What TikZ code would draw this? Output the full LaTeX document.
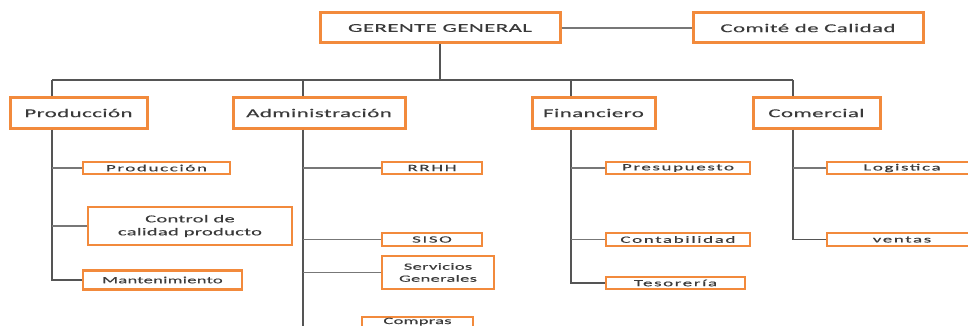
\documentclass[tikz,border=0pt]{standalone}
\usepackage{fontspec}
\newfontfamily\bigfont[FakeStretch=1.9,LetterSpace=4,FakeBold=0.3]{Carlito}
\newfontfamily\midfont[FakeStretch=1.95,LetterSpace=3,FakeBold=0.3]{Carlito}
\newfontfamily\smallfont[FakeStretch=2.0,LetterSpace=17,FakeBold=0.3]{Carlito}
\definecolor{boxorange}{HTML}{F28A3C}
\definecolor{txtgray}{HTML}{3A3A3A}
\definecolor{lngray}{HTML}{555555}
\begin{document}
\begin{tikzpicture}[x=1pt,y=-1pt,
  box/.style={draw=boxorange, line width=3pt, fill=white, text=txtgray, inner sep=0pt, align=center, font=\bigfont\fontsize{12}{13}\selectfont},
  sbox/.style={box, line width=2.4pt, font=\smallfont\fontsize{9.5}{13}\selectfont},
  mbox/.style={box, line width=2.4pt, font=\midfont\fontsize{9.5}{13}\selectfont},
  wire/.style={draw=lngray, line width=1.3pt},
  twig/.style={draw=lngray!80, line width=1.1pt}]
\clip (0,0) rectangle (968,326);
\fill[white] (0,0) rectangle (968,326);
% top level
\node[box, minimum width=240pt, minimum height=30pt] (gg) at (440,28) {GERENTE GENERAL};
\node[box, minimum width=230pt, minimum height=30pt] (cc) at (808,28) {Comité de Calidad};
% second level
\node[box, minimum width=137pt, minimum height=30pt] (prod) at (78.5,113) {Producción};
\node[box, minimum width=172pt, minimum height=30pt] (adm) at (319,113) {Administración};
\node[box, minimum width=123pt, minimum height=30pt] (fin) at (593.5,113) {Financiero};
\node[box, minimum width=127pt, minimum height=30pt] (com) at (816.5,113) {Comercial};
% third level - Producción
\node[sbox, minimum width=147pt, minimum height=12pt] (pp) at (156.5,168) {Producción};
\node[mbox, minimum width=204pt, minimum height=38pt, line width=2.8pt, font=\midfont\fontsize{10.5}{13}\selectfont] (ctrl) at (190,226) {Control de\\calidad producto};
\node[mbox, minimum width=159pt, minimum height=19pt] (mant) at (162.5,280) {Mantenimiento};
% Administración
\node[sbox, minimum width=100pt, minimum height=12pt] (rrhh) at (432,168) {RRHH};
\node[sbox, minimum width=100pt, minimum height=13pt] (siso) at (432,239.5) {SISO};
\node[mbox, minimum width=112pt, minimum height=33pt, font=\midfont\fontsize{9.5}{12}\selectfont] (serv) at (438,272.5) {Servicios\\Generales};
\node[mbox, minimum width=111pt, text height=6pt, text depth=14pt, inner ysep=1pt, anchor=base] (comp) at (417.5,324) {Compras};
% Financiero
\node[sbox, minimum width=144pt, minimum height=12pt] (pres) at (678,168) {Presupuesto};
\node[sbox, minimum width=144pt, minimum height=13pt] (cont) at (678,239.5) {Contabilidad};
\node[sbox, minimum width=139pt, minimum height=12pt] (teso) at (675.5,283) {Tesorería};
% Comercial
\node[sbox, minimum width=150pt, minimum height=12pt] (logi) at (902,168) {Logistica};
\node[sbox, minimum width=150pt, minimum height=13pt] (vent) at (902,239.5) {ventas};
% connectors
\coordinate (busL) at (52,80);
\coordinate (busR) at (793,80);
\coordinate (xA) at (303,80);
\coordinate (xF) at (571,80);
\draw[twig] (gg.east) -- (cc.west);
\draw[wire] (gg.south) -- (gg.south |- busL);
\draw[wire] (busL) -- (busR);
\draw[wire] (busL) -- (prod.north -| busL);
\draw[wire] (xA) -- (adm.north -| xA);
\draw[wire] (xF) -- (fin.north -| xF);
\draw[wire] (busR) -- (com.north -| busR);
% columns
\draw[wire] (prod.south -| busL) -- (mant.west -| busL) -- (mant.west);
\draw[twig] (pp.west) -- (pp.west -| busL);
\draw[twig] (ctrl.west) -- (ctrl.west -| busL);
\draw[wire] (adm.south -| xA) -- (comp.west -| xA) -- (comp.west);
\draw[twig] (rrhh.west) -- (rrhh.west -| xA);
\draw[twig] (siso.west) -- (siso.west -| xA);
\draw[twig] (serv.west) -- (serv.west -| xA);
\draw[wire] (fin.south -| xF) -- (teso.west -| xF) -- (teso.west);
\draw[twig] (pres.west) -- (pres.west -| xF);
\draw[twig] (cont.west) -- (cont.west -| xF);
\draw[wire] (com.south -| busR) -- (vent.west -| busR) -- (vent.west);
\draw[twig] (logi.west) -- (logi.west -| busR);
\end{tikzpicture}
\end{document}
